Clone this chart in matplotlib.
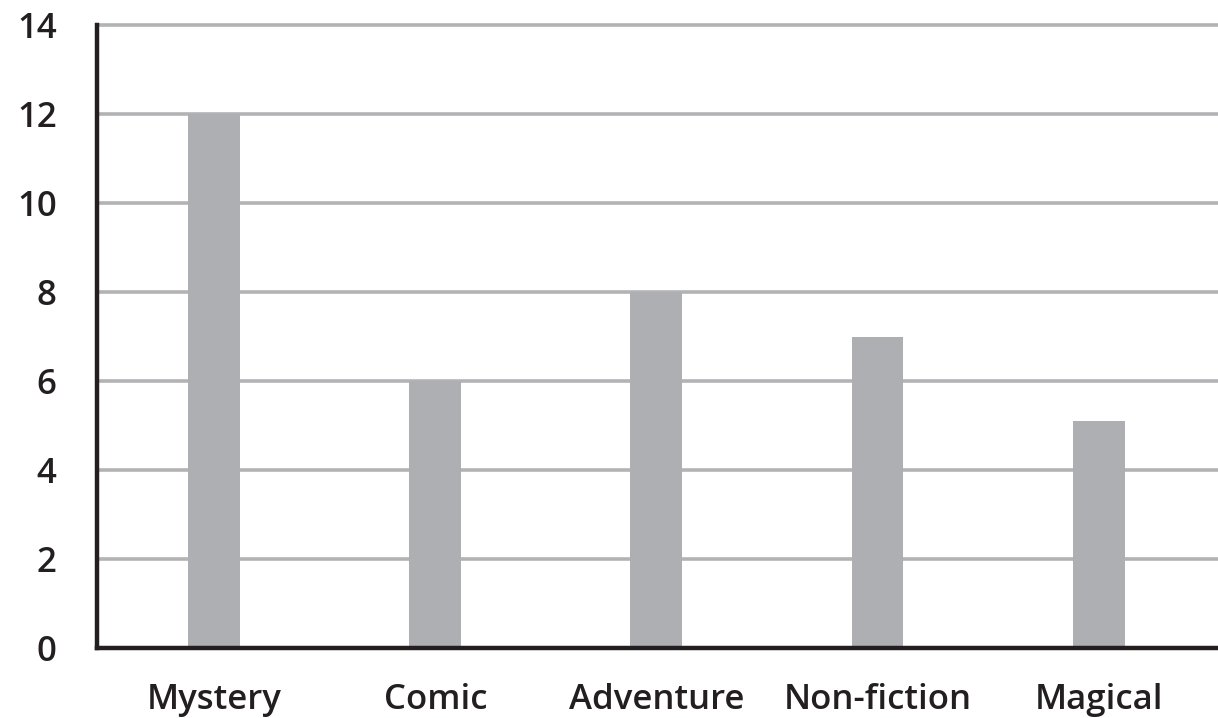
import matplotlib
matplotlib.use("Agg")
import matplotlib.pyplot as plt

categories = ["Mystery", "Comic", "Adventure", "Non-fiction", "Magical"]
values = [12, 6, 8, 7, 5.1]
yticks = [0, 2, 4, 6, 8, 10, 12, 14]

plt.rcParams['font.family'] = ['Open Sans', 'DejaVu Sans']

fig = plt.figure(figsize=(12.18, 7.18), dpi=100)
ax = fig.add_axes([97/1218, 1 - 648/718, 1 - 97/1218, (648 - 25)/718])

x = list(range(len(categories)))
ax.bar(x, values, width=0.235, color="#aeafb2", zorder=3)

ax.set_xlim(-0.53, 4.54)
ax.set_ylim(0, 14)
ax.set_yticks(yticks)
ax.set_yticklabels([str(v) for v in yticks])
ax.set_xticks(x)
ax.set_xticklabels(categories)

ax.yaxis.grid(True, color="#b3b3b5", linewidth=2.6, zorder=1)
ax.set_axisbelow(True)
for gl in ax.get_ygridlines():
    gl.set_clip_on(False)

for s in ["top", "right"]:
    ax.spines[s].set_visible(False)
for s in ["left", "bottom"]:
    ax.spines[s].set_color("#231f20")
    ax.spines[s].set_linewidth(3.2)
    ax.spines[s].set_zorder(4)
ax.spines["left"].set_capstyle("projecting")

ax.tick_params(axis="both", length=0, labelsize=25, colors="#231f20")
ax.tick_params(axis="y", pad=29)
ax.tick_params(axis="x", pad=25)
for lbl in ax.get_xticklabels() + ax.get_yticklabels():
    lbl.set_fontweight(600)

fig.savefig("out.png", dpi=100, facecolor="white")
